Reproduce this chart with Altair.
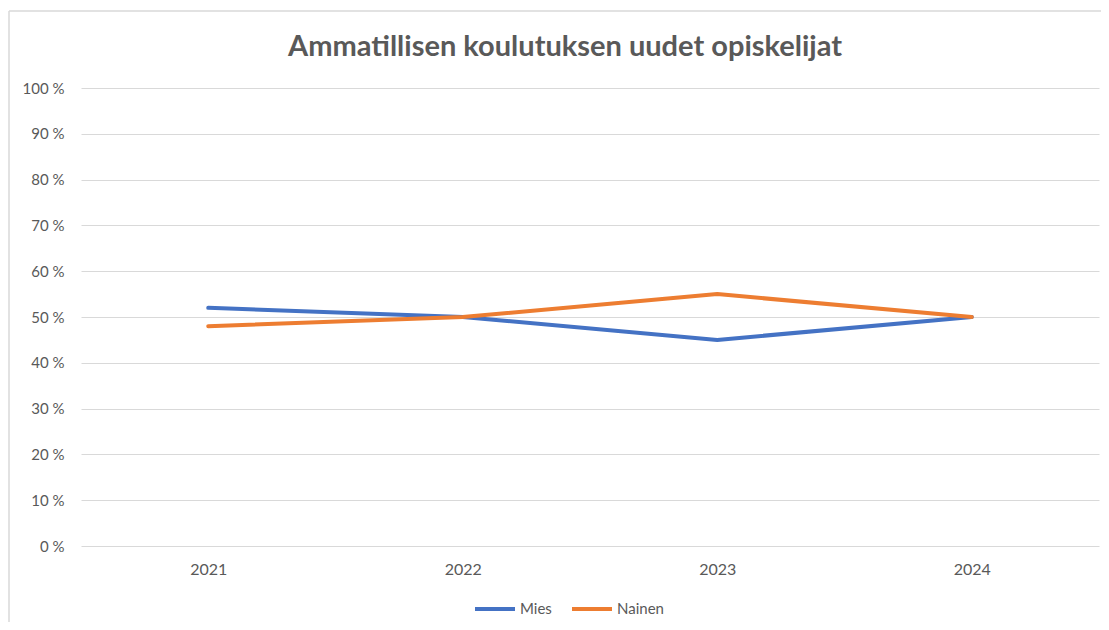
import altair as alt
import pandas as pd

title_text = "Ammatillisen koulutuksen uudet opiskelijat"
years = ["2021", "2022", "2023", "2024"]
mies = [52, 50, 45, 50]
nainen = [48, 50, 55, 50]
series = ["Mies", "Nainen"]
colors = ["#4472C4", "#ED7D31"]
y_ticks = [0, 10, 20, 30, 40, 50, 60, 70, 80, 90, 100]

rows = []
for i, yr in enumerate(years):
    rows.append({"year": yr, "series": "Mies", "value": mies[i]})
    rows.append({"year": yr, "series": "Nainen", "value": nainen[i]})
df = pd.DataFrame(rows)

FONT = "Lato"
GRAY = "#595959"

lines = alt.Chart(df).mark_line(strokeWidth=4, strokeCap="round", strokeJoin="round").encode(
    x=alt.X("year:O", sort=years, scale=alt.Scale(type="point", padding=0.5),
            axis=alt.Axis(title=None, labelAngle=0, ticks=False, domain=False, grid=False,
                          labelPadding=15, labelFont=FONT, labelFontSize=16, labelColor=GRAY)),
    y=alt.Y("value:Q", scale=alt.Scale(domain=[0, 100], nice=False),
            axis=alt.Axis(title=None, values=y_ticks, ticks=False, domain=False,
                          gridColor="#d9d9d9", gridWidth=1, labelPadding=17,
                          labelExpr="datum.value + ' %'",
                          labelFont=FONT, labelFontSize=15, labelColor=GRAY)),
    color=alt.Color("series:N", scale=alt.Scale(domain=series, range=colors),
                    legend=alt.Legend(title=None, orient="none", direction="horizontal",
                                      legendX=392, legendY=499, symbolType="stroke",
                                      symbolSize=1600, symbolStrokeWidth=4,
                                      labelFont=FONT, labelFontSize=15, labelColor=GRAY,
                                      labelOffset=3, columnPadding=12, padding=0)),
)

one = pd.DataFrame({"t": [title_text]})
frame = alt.Chart(one).mark_rule(color="#d9d9d9", strokeWidth=1.5).encode(
    x=alt.value(-72), y=alt.value(-77), y2=alt.value(540)
)
frame_top = alt.Chart(one).mark_rule(color="#d9d9d9", strokeWidth=1.5).encode(
    x=alt.value(-72), x2=alt.value(1030), y=alt.value(-77)
)
title = alt.Chart(one).mark_text(font=FONT, fontSize=29, fontWeight="bold", color=GRAY,
                                 align="center", baseline="middle").encode(
    text="t:N", x=alt.value(484), y=alt.value(-41)
)

chart = alt.layer(frame, frame_top, title, lines).properties(
    width=1018, height=458,
    background="white",
    autosize=alt.AutoSizeParams(type="none"),
    padding={"left": 73, "top": 80, "right": 2, "bottom": 76},
).configure_view(stroke=None)

chart.save("out.html", embed_options={"renderer": "svg", "actions": False})
